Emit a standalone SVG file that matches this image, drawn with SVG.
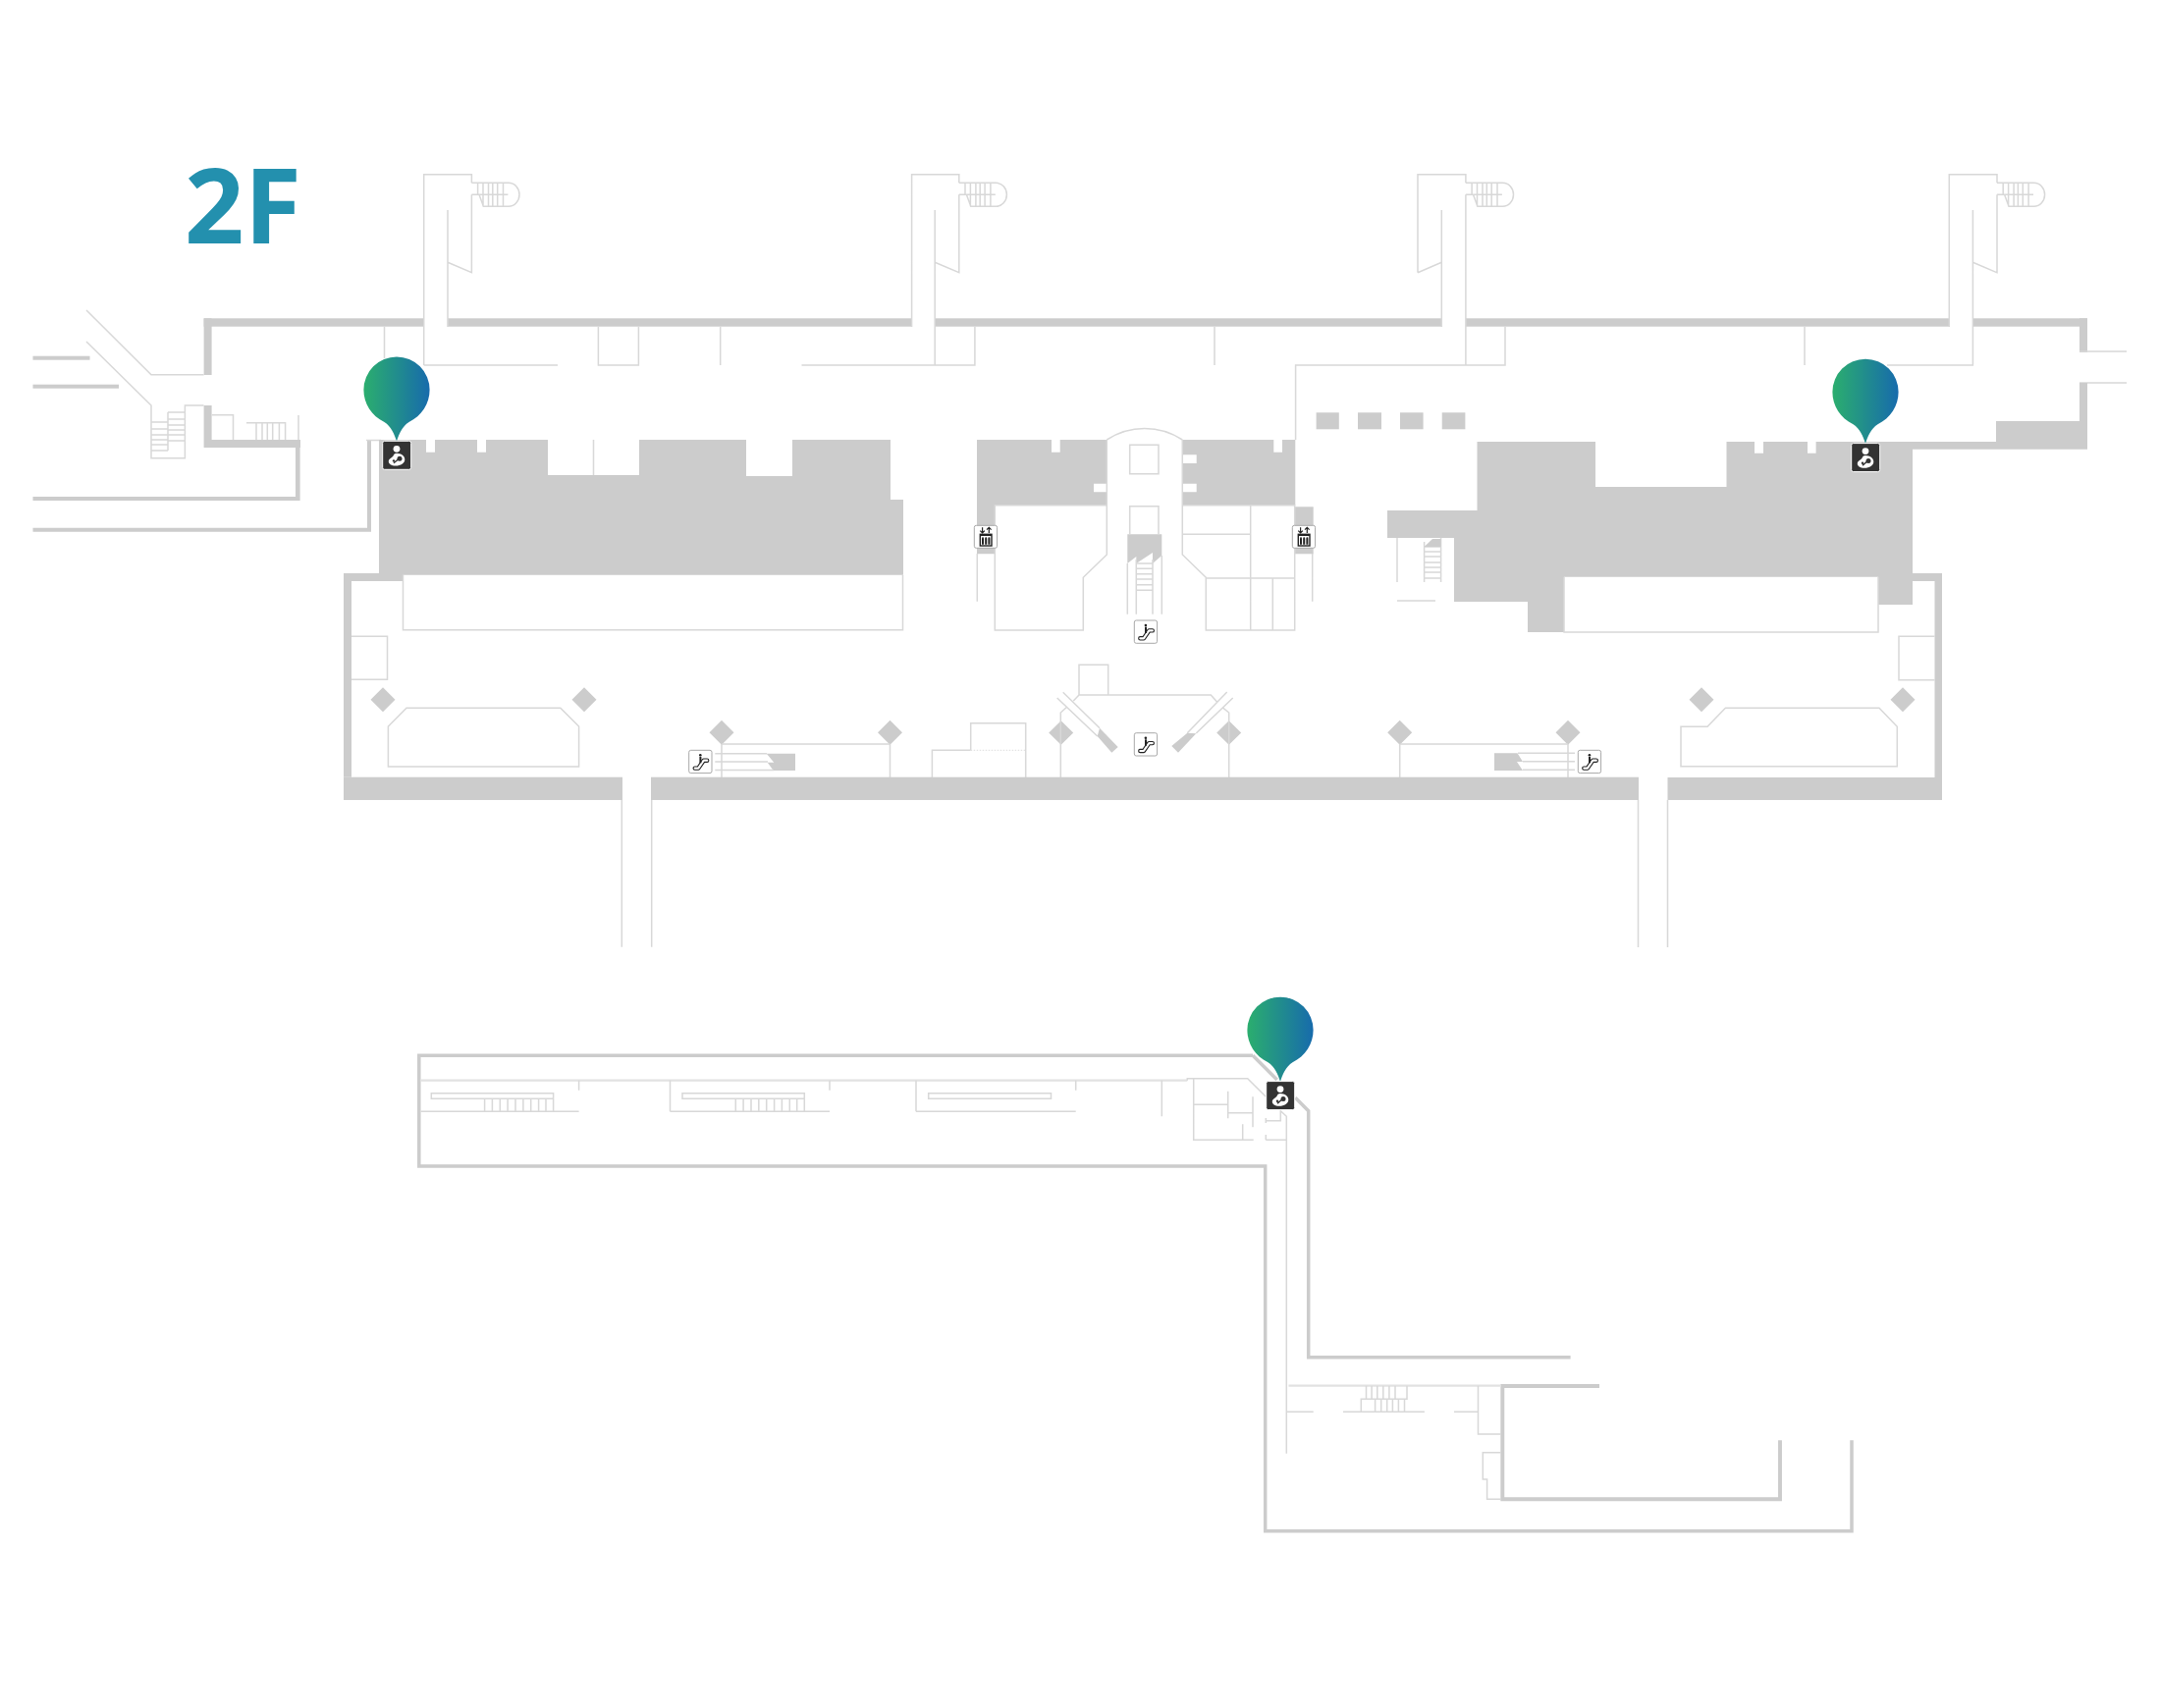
<svg xmlns="http://www.w3.org/2000/svg" xmlns:xlink="http://www.w3.org/1999/xlink" width="2200" height="1740" viewBox="0 0 2200 1740">
<style>
.g{fill:#ccc;stroke:none}
.l{fill:none;stroke:#d8d8d8;stroke-width:1.5}
.t{fill:none;stroke:#e2e2e2;stroke-width:2.2}
.w{fill:none;stroke:#ccc;stroke-width:3.9}
.w3{fill:none;stroke:#ccc;stroke-width:3.5}
.box{fill:#fff;stroke:#a8a8a8;stroke-width:1}
</style>
<defs>
<linearGradient id="pinGrad" x1="0" x2="1" y1="0" y2="0"><stop offset="0" stop-color="#2bae6e"/><stop offset="1" stop-color="#176bac"/></linearGradient>
<g id="stair"><path class="l" d="M0 0H37.6A11 12 0 0 1 37.6 24H12L7.6 12H0M0 12H37M6.2 0V12M11.6 0V24M17.1 0V24M21.4 0V24M26.3 0V24M32.1 0V24"/></g>
<g id="esc"><rect class="box" x="0" y="0" width="23.3" height="23.3" rx="2"/><path d="M6 18.3H9.6L15 10.4H18.5" fill="none" stroke="#222" stroke-width="4.4" stroke-linecap="round" stroke-linejoin="round"/><path d="M6 18.3H9.6L15 10.4H18.5" fill="none" stroke="#fff" stroke-width="2.2" stroke-linecap="round" stroke-linejoin="round"/><path d="M11.7 6.6V13" stroke="#222" stroke-width="2" fill="none"/><circle cx="11.6" cy="5" r="1.3" fill="#222"/></g>
<g id="lift"><rect class="box" x="0" y="0" width="23.3" height="23" rx="2"/><path d="M8.3 2V7.5M6 5.4L8.3 7.7L10.6 5.4M15 7.7V2.2M12.7 4.4L15 2.1L17.3 4.4" fill="none" stroke="#222" stroke-width="1.2"/><rect x="6" y="9" width="11.7" height="11.7" fill="#fff" stroke="#222" stroke-width="1.4"/><path d="M6 10.2H17.7" stroke="#222" stroke-width="1"/><path d="M8.7 13.5V19.5M11.9 13.5V19.5M15.1 13.5V19.5" stroke="#222" stroke-width="2"/><circle cx="8.7" cy="13" r="1" fill="#222"/><circle cx="11.9" cy="13" r="1" fill="#222"/><circle cx="15.1" cy="13" r="1" fill="#222"/></g>
<g id="pin"><path d="M404 449.6C401.5 442 398.5 434.5 391.5 430C378.5 423.5 370.4 411.5 370.4 397A33.6 33.6 0 0 1 437.6 397C437.6 411.5 429.5 423.5 416.5 430C409.5 434.5 406.5 442 404 449.6Z" fill="url(#pinGrad)"/><rect x="389.7" y="449.3" width="29" height="29" rx="2" fill="#333" stroke="#fff" stroke-width="1"/><circle cx="404" cy="457.3" r="3.4" fill="#fff"/><path d="M404 461.7C408.5 461.7 412.3 464.5 412.3 468C412.3 472 408 474.5 403 474.5C398.5 474.5 395.8 472.5 395.8 470C395.8 467.5 399 466.5 400.5 464.5C401 463 402 461.7 404 461.7Z" fill="#fff"/><circle cx="407" cy="467.2" r="2.5" fill="#333"/><circle cx="401" cy="469.4" r="1.2" fill="#333"/><path d="M401 471.8L405.5 468" stroke="#333" stroke-width="1.4" fill="none"/></g>
</defs>
<rect width="2200" height="1740" fill="#fff"/>
<text id="floor-label" x="188" y="248.3" font-family="'Noto Sans','Open Sans',sans-serif" font-weight="700" font-size="106" fill="#2390ae">2F</text>

<g id="upper-walls">
<rect class="g" x="207.6" y="324.3" width="224.1" height="8.4"/>
<rect class="g" x="456" y="324.3" width="472.6" height="8.4"/>
<rect class="g" x="952.2" y="324.3" width="516.1" height="8.4"/>
<rect class="g" x="1492.9" y="324.3" width="492.4" height="8.4"/>
<rect class="g" x="2009.4" y="324.3" width="116.6" height="8.4"/>
<rect class="g" x="207.6" y="324.3" width="8" height="57.7"/>
<rect class="g" x="2118" y="324.3" width="8" height="34.7"/>
<path class="g" d="M207.6 413H215.6V448H306V456H305.6V510H33.5V506H301V456H207.6Z"/>
<rect class="g" x="33.5" y="362.7" width="58" height="4"/>
<rect class="g" x="33.5" y="391.7" width="87.5" height="4"/>
<path class="g" d="M374 448H378V541.7H33.5V537.7H374Z"/>
</g>

<g id="west-corridor">
<path class="l" d="M88 316L154 381.7H207.6M88 348L154 413V466.7H188.4V413H207.6M171 420V459M171 420H188.4M171 427H188.4M171 433H188.4M171 438H188.4M171 443H188.4M171 449H188.4M154 430H171M154 437H171M154 443H171M154 448H171M154 453H171M154 459H171"/>
<path class="l" d="M215.6 422.7H237.5V448M251 430.7H290.6V448M261 430.7V448M267 430.7V448M272.3 430.7V448M277.7 430.7V448M284.4 430.7V448M304 423V448M373 448.5H388"/>
</g>

<g id="bridges">
<path class="l" d="M431.7 372V177.7H480.4V186.3M480.4 198.3V277.7L456 267.3M456 214V333M431.7 372H568M391.5 333V365M609.4 333V372H650.4V333"/>
<path class="l" d="M928.6 333V177.7H976.8V186.3M976.8 198.3V277.7L952.2 267.3M952.2 214V372M816.5 372H992.9V333M733.7 333V372"/>
<path class="l" d="M1444 277.7V177.7H1492.9V186.3M1492.9 198.3V372M1444 277.7L1468.3 267.3M1468.3 214V333M1319.6 448V372H1533V333M1237 333V372"/>
<path class="l" d="M1985.3 333V177.7H2034V186.3M2034 198.3V277.7L2009.4 267.3M2009.4 214V372H1922M1838 333V372"/>
<use xlink:href="#stair" href="#stair" x="480.4" y="186.3"/>
<use xlink:href="#stair" href="#stair" x="976.8" y="186.3"/>
<use xlink:href="#stair" href="#stair" x="1492.9" y="186.3"/>
<use xlink:href="#stair" href="#stair" x="2034" y="186.3"/>
<path class="l" d="M2118 358H2166M2118 390H2166"/>
</g>

<g id="west-block">
<path class="g" d="M386 448H434V460.7H443V448H486V460.7H495V448H558V484H651V448H760V485H807V448H907V509H920V585.7H410.5V592H358V791.7H350V584H386Z"/>
<path class="l" d="M604.5 448V484M410.5 585.7V641.7H919.5V585.7M358 648.3H394.5V692.3H358M395.4 740L414 721.3H570.8L589.6 740V781H395.4Z"/>
<path class="g" d="M390 700.2L402.5 712.7L390 725.2L377.5 712.7ZM595 700.2L607.5 712.7L595 725.2L582.5 712.7Z"/>
</g>

<g id="center-block">
<path class="g" d="M995 448H1071V460.7H1079.7V448H1127.3V492.7H1114V501.3H1127.3V514.7H1013.3V564.3H995Z"/>
<path class="g" d="M1204.3 448H1297.3V460.7H1306V448H1319.3V514.7H1204.3V501.3H1218.7V492.7H1204.3V472H1218.7V463.3H1204.3Z"/>
<rect class="g" x="1318.3" y="516.3" width="19.4" height="48"/>
<path class="g" d="M1148.3 544.3H1183.3V566L1174 574V563L1157.3 574V567L1148.3 574Z"/>
<path class="l" d="M1127.3 448A70 70 0 0 1 1204.3 448M1127.3 448V565L1103.3 588.3V642H1013.3V514.7H1127.3M1204.3 448V565L1228.3 588.3V642H1318.7V514.7H1204.3M995.3 564V612.7M1336.7 564V612.7M1273.7 514.7V642M1204.3 544.3H1273.7M1228.3 589H1318.7M1296.3 589V642"/>
<path class="l" d="M1150.7 453.3H1180V482.7H1150.7ZM1150.7 544.3V515.7H1180V544.3M1148.3 574V625.7M1157.3 570V625.7M1174 570V625.7M1183.3 566V625.7M1157.3 574H1174M1157.3 579.3H1174M1157.3 584.7H1174M1157.3 590H1174M1157.3 595.7H1174M1157.3 601.3H1174"/>
<path class="g" d="M1080.7 734.2L1093.2 746.5L1080.7 758.8L1068.2 746.5ZM1251.7 734.2L1264.2 746.5L1251.7 758.8L1239.2 746.5ZM735 733.8L747.5 746.3L735 758.8L722.5 746.3ZM906.5 733.8L919 746.3L906.5 758.8L894 746.3Z"/>
<path class="l" d="M1099 708V677.3H1128.7V708M1093.3 714L1099 708H1233.3L1239.3 714.7M1080.3 792V726L1086 720.7M1245 720.7L1251.7 726V792M1076.7 711L1117.7 750M1082.7 705.3L1120 741.7M1255.7 711L1218.3 747M1249.7 705L1209.3 746.7"/>
<path class="g" d="M1117.7 750L1120 741.7L1138.7 761L1132.3 766.7ZM1193.3 760L1200 766.7L1218.3 747.3L1209.3 746.7Z"/>
<path class="l" d="M949.4 792V764.3H988.7M988.7 764.3V736.7H1044.7V792"/>
<path d="M988.7 764.3H1044.7" stroke="#ddd" stroke-width="1" stroke-dasharray="1.5 1.5" fill="none"/>
<path class="l" d="M735 758V792M906.5 758V792M735 758H906.5"/>
<path class="g" d="M780.7 767.7H810V785H787.7L781.7 776.7H788.3Z"/>
<path class="l" d="M728.3 767.7H781M728.3 776H782M728.3 784.5H788"/>
</g>

<g id="east-block">
<path class="g" d="M1504.5 450H1625V496H1758.5V450H1787V461.7H1796V450H1841V461.7H1849.6V450H2033V429H2118V390H2126V457.7H1948V584H1978V815H1698.5V792H1970.5V592H1948V616H1913V587.7H1593V644H1556V613H1481V548H1413V520H1504.5Z"/>
<rect class="g" x="1340.6" y="420.3" width="23.2" height="17"/>
<rect class="g" x="1383" y="420.3" width="24" height="17"/>
<rect class="g" x="1426" y="420.3" width="23.6" height="17"/>
<rect class="g" x="1468.7" y="420.3" width="23.7" height="17"/>
<path class="l" d="M1423 548V593M1450.6 552V593M1467.6 548V593M1450.6 557H1467.6M1450.6 562H1467.6M1450.6 567H1467.6M1450.6 573H1467.6M1450.6 578H1467.6M1450.6 583H1467.6M1450.6 589H1467.6M1423 612H1462"/>
<path class="g" d="M1459 549H1467.6V557H1450.6Z"/>
<path class="l" d="M1593 587.7V644H1913V587.7M1970.5 648.3H1934V692.7H1970.5M1712 740.3H1739L1757.4 721.3H1914L1932.3 740.3V780.7H1712Z"/>
<path class="g" d="M1733 700.2L1745.5 712.7L1733 725.2L1720.5 712.7ZM1938 700.2L1950.5 712.7L1938 725.2L1925.5 712.7ZM1425.7 733.8L1438.2 746.3L1425.7 758.8L1413.2 746.3ZM1597 733.8L1609.5 746.3L1597 758.8L1584.5 746.3Z"/>
<path class="l" d="M1425.7 758V792M1597 758V792M1425.7 758H1597"/>
<path class="g" d="M1522 767.3H1545.5L1551 776H1545L1551 785H1522Z"/>
<path class="l" d="M1546 767.3H1604M1551 775.7H1604M1551 784.3H1604"/>
</g>

<g id="south-wall">
<rect class="g" x="350" y="791.7" width="284" height="23.3"/>
<rect class="g" x="663" y="791.7" width="1006" height="23.3"/>
<path class="l" d="M633.3 815V964.7M663.7 815V964.7M1668.5 815V965M1698.5 815V965"/>
</g>

<g id="lower-building">
<path class="w3" d="M1276 1075.2H426.8V1188H1288.7V1559.7H1886V1467.3"/>
<path class="w3" d="M1276 1075.2L1300.7 1100M1319.3 1118.3L1332.7 1131.7V1382.7H1599.6"/>
<path class="w" d="M1629 1412H1530.3V1527.2H1813V1467.3"/>
<path class="t" d="M428.6 1100.7H1209.3"/>
<path class="l" d="M1209.3 1100.7V1098.7H1270.7L1289.3 1117.3M428.6 1132.3H589.6M682.5 1132.3H845M933 1132.3H1095.7M589.6 1100.7V1110.7M682.5 1100.7V1132.3M845 1100.7V1110.7M933 1100.7V1132.3M1095.7 1100.7V1110.7M1183.3 1100.7V1137.3"/>
<path class="l" d="M439.3 1113.7H563.6V1119.3H439.3ZM695 1113.7H819.3V1119.3H695ZM945.7 1113.7H1070.5V1119.3H945.7ZM493.6 1119.3V1132.3M501.4 1119.3V1132.3M509.3 1119.3V1132.3M517.1 1119.3V1132.3M525 1119.3V1132.3M532.9 1119.3V1132.3M540.7 1119.3V1132.3M548.6 1119.3V1132.3M556 1119.3V1132.3M563.6 1119.3V1132.3M749.3 1119.3V1132.3M757.1 1119.3V1132.3M765 1119.3V1132.3M772.8 1119.3V1132.3M780.7 1119.3V1132.3M788.6 1119.3V1132.3M796.4 1119.3V1132.3M804.3 1119.3V1132.3M811.7 1119.3V1132.3M819.3 1119.3V1132.3"/>
<path class="l" d="M1215.7 1098.7V1161.3H1276.7M1215.7 1125.3H1250.7M1250.7 1111.7V1139.3M1250.7 1133.7H1276M1276 1117.3V1148.3M1265.7 1145.3V1161.3M1289.3 1139V1144M1289.3 1156V1161.3M1289.3 1141.7H1304.3V1131.7L1310.3 1137.3V1480.7M1289.3 1161.3H1310.3"/>
<path class="t" d="M1312.5 1411.7H1529"/>
<path class="l" d="M1391.5 1411.7V1425.3H1433V1411.7M1397.1 1411.7V1425.3M1402.8 1411.7V1425.3M1408.8 1411.7V1425.3M1414.9 1411.7V1425.3M1421 1411.7V1425.3M1386.3 1438.3V1425.3H1430.5V1438.3M1400.6 1425.3V1438.3M1406.7 1425.3V1438.3M1412.7 1425.3V1438.3M1418.4 1425.3V1438.3M1424.4 1425.3V1438.3M1310.4 1438.3H1337.7M1368 1438.3H1450.9M1481 1438.3H1505.5M1505.5 1411.7V1461H1529M1529 1479.7H1510.3V1507H1514.6V1527.3H1529"/>
</g>

<g id="icons">
<use id="lift-west" xlink:href="#lift" href="#lift" x="992.3" y="535.3"/>
<use id="lift-east" xlink:href="#lift" href="#lift" x="1316.3" y="535.3"/>
<use id="esc-center-top" xlink:href="#esc" href="#esc" x="1155.3" y="632"/>
<use id="esc-center-bottom" xlink:href="#esc" href="#esc" x="1155.3" y="746.7"/>
<use id="esc-west" xlink:href="#esc" href="#esc" x="701.7" y="764.3"/>
<use id="esc-east" xlink:href="#esc" href="#esc" x="1607.3" y="764.3"/>
</g>

<g id="pin-west"><use xlink:href="#pin" href="#pin"/></g>
<g id="pin-east"><use xlink:href="#pin" href="#pin" x="1496" y="2.3"/></g>
<g id="pin-south"><use xlink:href="#pin" href="#pin" x="900" y="652.3"/></g>
</svg>
